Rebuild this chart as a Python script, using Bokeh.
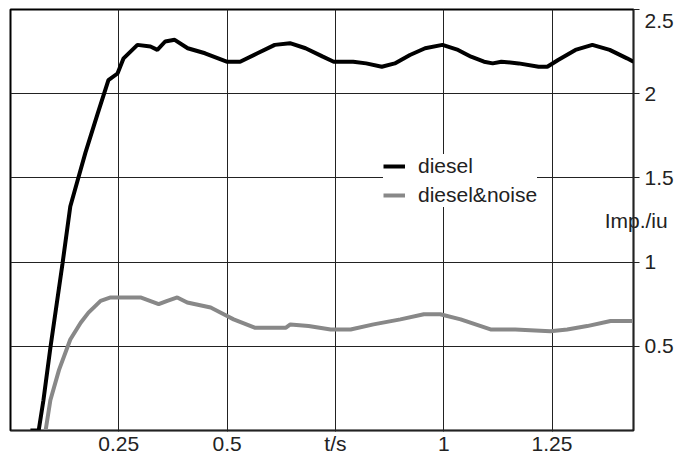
from bokeh.plotting import figure
from bokeh.models import Range1d, FixedTicker, Legend, LegendItem
from bokeh.embed import file_html
from bokeh.resources import INLINE

# ---- data ----
t_diesel = [0.046, 0.065, 0.076, 0.092, 0.120, 0.138, 0.162, 0.173, 0.201, 0.226,
            0.247, 0.261, 0.293, 0.323, 0.339, 0.357, 0.379, 0.409, 0.449, 0.499,
            0.530, 0.570, 0.610, 0.645, 0.681, 0.721, 0.746, 0.791, 0.821, 0.857,
            0.887, 0.922, 0.957, 0.997, 1.033, 1.063, 1.093, 1.113, 1.133, 1.173,
            1.219, 1.239, 1.264, 1.304, 1.343, 1.383, 1.423, 1.438]
imp_diesel = [0.0, 0.0, 0.18, 0.49, 0.99, 1.33, 1.55, 1.65, 1.88, 2.08,
              2.12, 2.21, 2.29, 2.28, 2.26, 2.31, 2.32, 2.27, 2.24, 2.19,
              2.19, 2.24, 2.29, 2.30, 2.27, 2.22, 2.19, 2.19, 2.18, 2.16,
              2.18, 2.23, 2.27, 2.29, 2.26, 2.22, 2.19, 2.18, 2.19, 2.18,
              2.16, 2.16, 2.20, 2.26, 2.29, 2.26, 2.21, 2.19]

t_noise = [0.081, 0.092, 0.112, 0.138, 0.162, 0.180, 0.208, 0.231, 0.300, 0.342,
           0.362, 0.385, 0.408, 0.462, 0.500, 0.515, 0.565, 0.635, 0.646, 0.688,
           0.739, 0.785, 0.838, 0.900, 0.954, 0.992, 1.039, 1.108, 1.165, 1.246,
           1.285, 1.331, 1.385, 1.438]
imp_noise = [0.0, 0.18, 0.36, 0.54, 0.64, 0.70, 0.77, 0.79, 0.79, 0.75,
             0.77, 0.79, 0.76, 0.73, 0.68, 0.66, 0.61, 0.61, 0.63, 0.62,
             0.60, 0.60, 0.63, 0.66, 0.69, 0.69, 0.66, 0.60, 0.60, 0.59,
             0.60, 0.62, 0.65, 0.65]

series_names = ["diesel", "diesel&noise"]
x_ticks = [0.25, 0.5, 0.75, 1.0, 1.25]
x_tick_labels = ["0.25", "0.5", "t/s", "1", "1.25"]
y_ticks = [0.5, 1.0, 1.5, 2.0, 2.5]
y_tick_labels = ["0.5", "1", "1.5", "2", "2.5"]
y_axis_title = "Imp./iu"

X_MAX = 1.438
TOP_LABEL_POS = 2.43      # the "2.5" label sits a little below the frame top
FONT = "Liberation Sans"
FS = "21px"
INK = "#222222"

p = figure(frame_width=623, frame_height=421,
           x_range=Range1d(0, X_MAX), y_range=Range1d(0, 2.5),
           y_axis_location="right",
           output_backend="svg", toolbar_location=None,
           min_border_left=10, min_border_top=9,
           min_border_right=46, min_border_bottom=0)

p.background_fill_color = "white"
p.border_fill_color = "white"
p.outline_line_color = "black"
p.outline_line_width = 2

# grids
p.xgrid.ticker = FixedTicker(ticks=x_ticks)
p.ygrid.ticker = FixedTicker(ticks=y_ticks)
for g in (p.xgrid, p.ygrid):
    g.grid_line_color = INK
    g.grid_line_width = 1
    g.grid_line_alpha = 1.0

# x axis
xa = p.xaxis[0]
xa.axis_label = None
xa.ticker = FixedTicker(ticks=x_ticks)
xa.major_label_overrides = {v: s for v, s in zip(x_ticks, x_tick_labels)}
xa.major_tick_out = 1
xa.major_tick_in = 0
xa.minor_tick_line_color = None
xa.major_label_standoff = 0

# y axis (right): labels on "major" ticks, tick marks on "minor" ticks
label_pos = y_ticks[:-1] + [TOP_LABEL_POS]
ya = p.yaxis[0]
ya.ticker = FixedTicker(ticks=label_pos, minor_ticks=y_ticks)
ya.major_label_overrides = {v: s for v, s in zip(label_pos, y_tick_labels)}
ya.major_tick_out = 6
ya.major_tick_in = 0
ya.major_tick_line_color = None
ya.minor_tick_out = 6
ya.minor_tick_in = 0
ya.minor_tick_line_color = INK
ya.major_label_standoff = 5
ya.axis_label = y_axis_title
ya.axis_label_orientation = "horizontal"
ya.axis_label_standoff = -72
ya.axis_label_text_font = FONT
ya.axis_label_text_font_size = FS
ya.axis_label_text_font_style = "normal"
ya.axis_label_text_color = INK

for ax in (xa, ya):
    ax.axis_line_color = INK
    ax.axis_line_width = 1
    ax.major_label_text_font = FONT
    ax.major_label_text_font_size = FS
    ax.major_label_text_color = INK
xa.major_tick_line_color = INK

r1 = p.line(t_diesel, imp_diesel, line_color="black", line_width=4)
r2 = p.line(t_noise, imp_noise, line_color="#888888", line_width=4)

legend = Legend(items=[LegendItem(label=series_names[0], renderers=[r1]),
                       LegendItem(label=series_names[1], renderers=[r2])],
                location=(373, 223),
                background_fill_color="white", background_fill_alpha=1.0,
                border_line_color=None,
                label_text_font=FONT, label_text_font_size=FS,
                label_text_color=INK,
                glyph_width=22, glyph_height=22, label_height=22,
                label_standoff=13, spacing=5, padding=4, margin=0)
p.add_layout(legend)

open("out.html", "w").write(file_html(p, INLINE))
